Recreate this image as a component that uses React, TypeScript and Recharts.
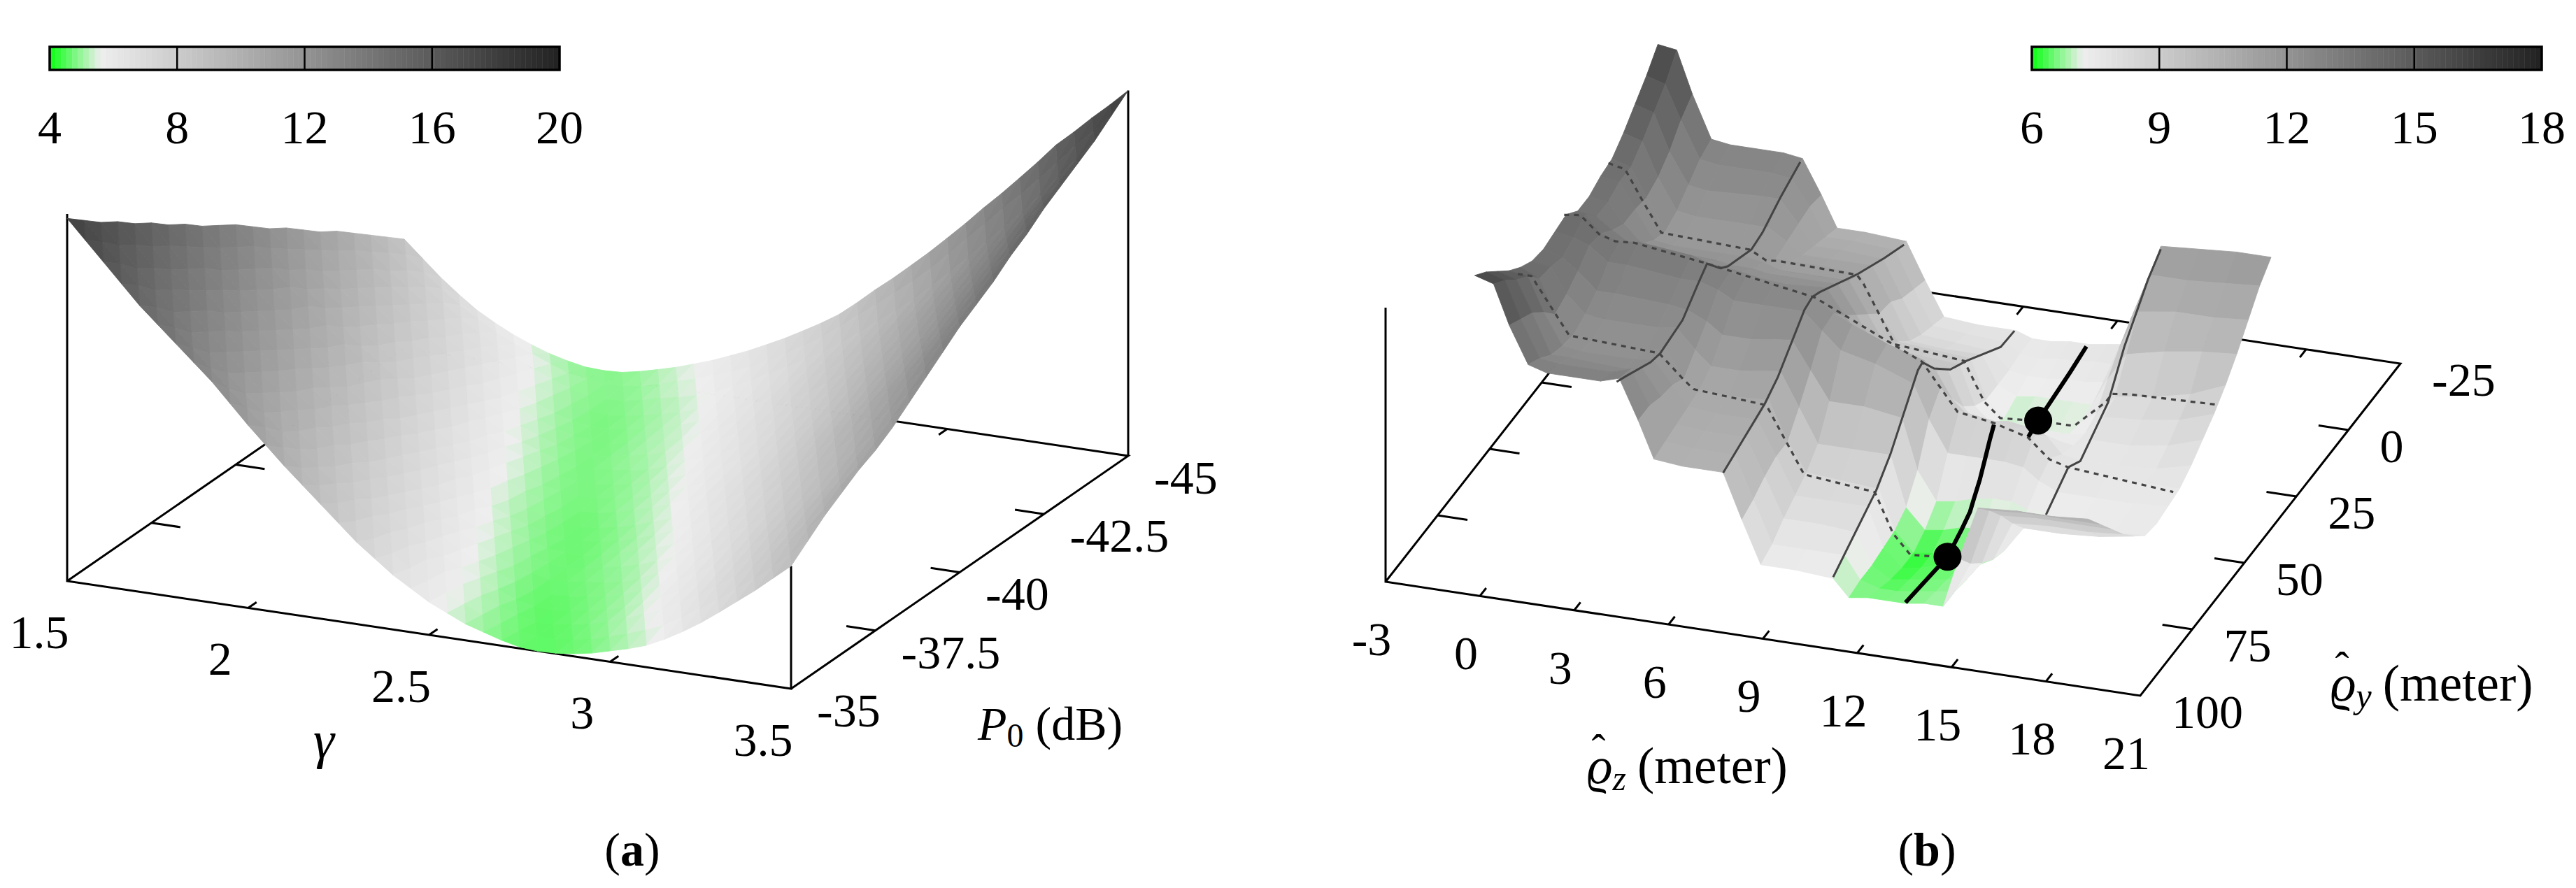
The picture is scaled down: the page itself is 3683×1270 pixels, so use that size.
import { ScatterChart, Scatter, XAxis, YAxis, ReferenceArea, ReferenceLine } from 'recharts';

const FONT = '"Liberation Serif", serif';
const WIDTH = 3683;
const HEIGHT = 1270;

// left panel: error over path loss exponent and reference power
const gammaValues = [1.5, 1.55, 1.6, 1.65, 1.7, 1.75, 1.8, 1.85, 1.9, 1.95, 2.0, 2.05, 2.1, 2.15, 2.2, 2.25, 2.3, 2.35, 2.4, 2.45, 2.5, 2.55, 2.6, 2.65, 2.7, 2.75, 2.8, 2.85, 2.9, 2.95, 3.0, 3.05, 3.1, 3.15, 3.2, 3.25, 3.3, 3.35, 3.4, 3.45, 3.5];
const p0Values = [-35, -35.5, -36, -36.5, -37, -37.5, -38, -38.5, -39, -39.5, -40, -40.5, -41, -41.5, -42, -42.5, -43, -43.5, -44, -44.5, -45];
const errorLeft = [
  [17.9, 17.2, 16.5, 15.8, 15.1, 14.5, 13.9, 13.3, 12.7, 12.0, 11.3, 10.65, 10.0, 9.4, 8.8, 8.2, 7.6, 7.1, 6.6, 6.2, 5.8, 5.5, 5.2, 5.0, 4.8, 4.65, 4.6, 4.62, 4.7, 4.82, 5.0, 5.18, 5.4, 5.72, 6.1, 6.52, 7.0, 7.5, 8.0, 8.55, 9.1],
  [17.4, 16.7, 16.0, 15.3, 14.6, 13.95, 13.3, 12.65, 12.0, 11.4, 10.8, 10.15, 9.5, 8.95, 8.4, 7.85, 7.3, 6.85, 6.4, 6.05, 5.7, 5.4, 5.1, 4.88, 4.7, 4.62, 4.6, 4.68, 4.8, 5.0, 5.2, 5.43, 5.7, 6.08, 6.5, 6.93, 7.4, 7.9, 8.4, 8.98, 9.6],
  [16.9, 16.15, 15.4, 14.7, 14.0, 13.35, 12.7, 12.05, 11.4, 10.8, 10.2, 9.65, 9.1, 8.6, 8.1, 7.6, 7.1, 6.7, 6.3, 5.95, 5.6, 5.28, 5.0, 4.78, 4.6, 4.62, 4.7, 4.83, 5.0, 5.23, 5.5, 5.78, 6.1, 6.48, 6.9, 7.33, 7.8, 8.33, 8.9, 9.48, 10.1],
  [16.5, 15.75, 15.0, 14.3, 13.6, 12.95, 12.3, 11.65, 11.0, 10.4, 9.8, 9.25, 8.7, 8.2, 7.7, 7.25, 6.8, 6.4, 6.0, 5.68, 5.4, 5.08, 4.8, 4.66, 4.6, 4.68, 4.8, 4.93, 5.1, 5.38, 5.7, 5.98, 6.3, 6.73, 7.2, 7.63, 8.1, 8.63, 9.2, 9.83, 10.5],
  [16.0, 15.25, 14.5, 13.85, 13.2, 12.55, 11.9, 11.25, 10.6, 10.05, 9.5, 8.95, 8.4, 7.9, 7.4, 7.0, 6.6, 6.2, 5.8, 5.48, 5.2, 4.93, 4.7, 4.65, 4.7, 4.78, 4.9, 5.08, 5.3, 5.58, 5.9, 6.23, 6.6, 7.03, 7.5, 7.98, 8.5, 9.03, 9.6, 10.23, 10.9],
  [15.6, 14.85, 14.1, 13.4, 12.7, 12.1, 11.5, 10.85, 10.2, 9.65, 9.1, 8.55, 8.0, 7.55, 7.1, 6.7, 6.3, 5.95, 5.6, 5.28, 5.0, 4.83, 4.7, 4.72, 4.8, 4.88, 5.0, 5.23, 5.5, 5.78, 6.1, 6.48, 6.9, 7.33, 7.8, 8.28, 8.8, 9.33, 9.9, 10.53, 11.2],
  [15.1, 14.4, 13.7, 13.0, 12.3, 11.7, 11.1, 10.5, 9.9, 9.35, 8.8, 8.25, 7.7, 7.25, 6.8, 6.4, 6.0, 5.68, 5.4, 5.13, 4.9, 4.77, 4.7, 4.77, 4.9, 5.03, 5.2, 5.43, 5.7, 6.03, 6.4, 6.78, 7.2, 7.63, 8.1, 8.58, 9.1, 9.68, 10.3, 10.93, 11.6],
  [14.7, 13.95, 13.2, 12.55, 11.9, 11.3, 10.7, 10.1, 9.5, 8.95, 8.4, 7.9, 7.4, 6.95, 6.5, 6.15, 5.8, 5.48, 5.2, 4.98, 4.8, 4.72, 4.7, 4.83, 5.0, 5.18, 5.4, 5.63, 5.9, 6.28, 6.7, 7.08, 7.5, 7.98, 8.5, 8.98, 9.5, 10.08, 10.7, 11.38, 12.1],
  [14.2, 13.5, 12.8, 12.15, 11.5, 10.9, 10.3, 9.7, 9.1, 8.6, 8.1, 7.6, 7.1, 6.7, 6.3, 5.88, 5.5, 5.23, 5.0, 4.83, 4.7, 4.73, 4.8, 4.93, 5.1, 5.33, 5.6, 5.88, 6.2, 6.58, 7.0, 7.43, 7.9, 8.38, 8.9, 9.43, 10.0, 10.58, 11.2, 11.88, 12.6],
  [13.8, 13.1, 12.4, 11.75, 11.1, 10.5, 9.9, 9.35, 8.8, 8.25, 7.7, 7.25, 6.8, 6.4, 6.0, 5.63, 5.3, 5.08, 4.9, 4.78, 4.7, 4.78, 4.9, 5.08, 5.3, 5.53, 5.8, 6.13, 6.5, 6.88, 7.3, 7.73, 8.2, 8.73, 9.3, 9.83, 10.4, 11.03, 11.7, 12.38, 13.1],
  [13.4, 12.7, 12.0, 11.4, 10.8, 10.2, 9.6, 9.05, 8.5, 7.95, 7.4, 6.95, 6.5, 6.13, 5.8, 5.48, 5.2, 4.98, 4.8, 4.75, 4.8, 4.93, 5.1, 5.28, 5.5, 5.78, 6.1, 6.43, 6.8, 7.18, 7.6, 8.08, 8.6, 9.13, 9.7, 10.28, 10.9, 11.53, 12.2, 12.88, 13.6],
  [12.9, 12.2, 11.5, 10.9, 10.3, 9.7, 9.1, 8.6, 8.1, 7.6, 7.1, 6.63, 6.2, 5.88, 5.6, 5.28, 5.0, 4.88, 4.8, 4.83, 4.9, 5.03, 5.2, 5.43, 5.7, 5.98, 6.3, 6.63, 7.0, 7.43, 7.9, 8.38, 8.9, 9.43, 10.0, 10.58, 11.2, 11.88, 12.6, 13.28, 14.0],
  [12.4, 11.75, 11.1, 10.5, 9.9, 9.3, 8.7, 8.2, 7.7, 7.25, 6.8, 6.4, 6.0, 5.68, 5.4, 5.13, 4.9, 4.82, 4.8, 4.88, 5.0, 5.18, 5.4, 5.63, 5.9, 6.18, 6.5, 6.88, 7.3, 7.73, 8.2, 8.68, 9.2, 9.78, 10.4, 10.98, 11.6, 12.28, 13.0, 13.68, 14.4],
  [12.0, 11.3, 10.6, 10.05, 9.5, 8.95, 8.4, 7.9, 7.4, 6.95, 6.5, 6.1, 5.7, 5.43, 5.2, 4.98, 4.8, 4.83, 4.9, 4.98, 5.1, 5.33, 5.6, 5.83, 6.1, 6.43, 6.8, 7.18, 7.6, 8.03, 8.5, 9.03, 9.6, 10.13, 10.7, 11.33, 12.0, 12.68, 13.4, 14.13, 14.9],
  [11.5, 10.85, 10.2, 9.65, 9.1, 8.55, 8.0, 7.55, 7.1, 6.65, 6.2, 5.85, 5.5, 5.23, 5.0, 4.88, 4.8, 4.88, 5.0, 5.13, 5.3, 5.53, 5.8, 6.08, 6.4, 6.73, 7.1, 7.48, 7.9, 8.38, 8.9, 9.43, 10.0, 10.53, 11.1, 11.73, 12.4, 13.08, 13.8, 14.53, 15.3],
  [11.0, 10.4, 9.8, 9.25, 8.7, 8.2, 7.7, 7.25, 6.8, 6.33, 5.9, 5.58, 5.3, 5.08, 4.9, 4.83, 4.8, 4.93, 5.1, 5.23, 5.4, 5.68, 6.0, 6.28, 6.6, 6.98, 7.4, 7.78, 8.2, 8.68, 9.2, 9.73, 10.3, 10.88, 11.5, 12.13, 12.8, 13.48, 14.2, 14.98, 15.8],
  [10.6, 10.0, 9.4, 8.85, 8.3, 7.8, 7.3, 6.9, 6.5, 6.08, 5.7, 5.38, 5.1, 4.93, 4.8, 4.83, 4.9, 5.03, 5.2, 5.38, 5.6, 5.88, 6.2, 6.53, 6.9, 7.28, 7.7, 8.13, 8.6, 9.08, 9.6, 10.13, 10.7, 11.28, 11.9, 12.53, 13.2, 13.93, 14.7, 15.43, 16.2],
  [10.1, 9.5, 8.9, 8.4, 7.9, 7.45, 7.0, 6.6, 6.2, 5.83, 5.5, 5.23, 5.0, 4.88, 4.8, 4.88, 5.0, 5.13, 5.3, 5.53, 5.8, 6.08, 6.4, 6.73, 7.1, 7.53, 8.0, 8.43, 8.9, 9.38, 9.9, 10.43, 11.0, 11.63, 12.3, 12.93, 13.6, 14.33, 15.1, 15.83, 16.6],
  [9.6, 9.05, 8.5, 8.0, 7.5, 7.03, 6.6, 6.23, 5.9, 5.58, 5.3, 5.08, 4.9, 4.87, 4.9, 5.03, 5.2, 5.33, 5.5, 5.73, 6.0, 6.33, 6.7, 7.03, 7.4, 7.78, 8.2, 8.68, 9.2, 9.68, 10.2, 10.78, 11.4, 12.03, 12.7, 13.33, 14.0, 14.73, 15.5, 16.23, 17.0],
  [9.1, 8.55, 8.0, 7.5, 7.0, 6.6, 6.2, 5.88, 5.6, 5.33, 5.1, 4.98, 4.9, 4.93, 5.0, 5.18, 5.4, 5.58, 5.8, 6.03, 6.3, 6.63, 7.0, 7.38, 7.8, 8.28, 8.8, 9.28, 9.8, 10.33, 10.9, 11.53, 12.2, 12.83, 13.5, 14.13, 14.8, 15.48, 16.2, 16.83, 17.5],
  [8.6, 8.0, 7.4, 6.88, 6.4, 6.03, 5.7, 5.43, 5.2, 5.03, 4.9, 4.87, 4.9, 5.03, 5.2, 5.38, 5.6, 5.83, 6.1, 6.38, 6.7, 7.03, 7.4, 7.78, 8.2, 8.73, 9.3, 9.83, 10.4, 10.98, 11.6, 12.23, 12.9, 13.53, 14.2, 14.88, 15.6, 16.18, 16.8, 17.38, 18.0],
];

const gammaTicks = [1.5, 2, 2.5, 3, 3.5];
const p0Ticks = [-35, -37.5, -40, -42.5, -45];
const barTicksLeft = [4, 8, 12, 16, 20];

// right panel: error over estimated position
const rhoZValues = [0, 0.6, 1.1, 1.7, 2.3, 4, 4.6, 5.2, 5.7, 6.6, 7.9, 8.5, 9.1, 10.2, 11.4, 11.9, 12.5, 13.1, 13.7, 14.3, 14.9, 15.4, 16, 17.2, 18.4, 19.5];
const rhoYValues = [102.5, 97, 91.5, 86, 80.5, 75, 69.5, 64, 58.5, 53, 47.5, 42, 36.5, 31, 25.5, 20, 14.5];
const errorRight = [
  [16.1, 15.9, 14.5, 13.2, 13.0, 13.0, 13.2, 11.8, 10.5, 10.4, 10.4, 8.8, 7.3, 7.3, 7.2, 6.6, 6.7, 6.7, 6.7, 6.8, 6.8, 8.6, 10.5, 10.6, 10.6, 10.7],
  [15.7, 15.5, 14.2, 12.9, 12.8, 12.8, 13.0, 11.8, 10.6, 10.5, 10.5, 9.0, 7.5, 7.5, 7.5, 6.7, 6.5, 6.5, 6.6, 6.7, 6.8, 7.9, 9.9, 10.0, 10.0, 10.0],
  [15.2, 15.0, 13.9, 12.5, 12.5, 12.4, 12.5, 11.6, 10.7, 10.6, 10.6, 9.3, 7.9, 7.9, 7.8, 6.7, 6.3, 6.4, 6.5, 6.6, 6.7, 7.4, 9.2, 9.3, 9.3, 9.3],
  [14.7, 14.6, 13.4, 12.3, 12.2, 12.2, 12.3, 11.5, 10.8, 10.7, 10.7, 9.5, 8.2, 8.2, 8.2, 6.8, 6.2, 6.3, 6.5, 6.5, 6.7, 7.0, 8.4, 8.5, 8.5, 8.6],
  [14.3, 14.0, 12.8, 12.2, 12.1, 12.0, 12.2, 11.2, 10.9, 10.8, 10.9, 9.5, 8.5, 8.4, 8.3, 6.9, 6.2, 6.3, 6.4, 6.4, 6.7, 6.8, 7.7, 7.7, 7.8, 8.0],
  [14.0, 13.9, 13.0, 12.4, 12.3, 12.3, 12.4, 11.7, 11.2, 11.2, 11.4, 10.2, 9.0, 9.0, 9.0, 7.2, 6.5, 6.6, 6.8, 6.8, 6.9, 6.9, 7.4, 7.4, 7.4, 7.5],
  [13.9, 13.7, 13.3, 12.7, 12.7, 12.6, 12.5, 12.2, 11.8, 11.8, 12.0, 11.0, 10.0, 10.0, 9.8, 8.0, 7.0, 7.1, 7.3, 7.4, 7.4, 7.2, 7.2, 7.3, 7.3, 7.4],
  [14.0, 13.9, 13.7, 13.2, 13.2, 13.0, 13.0, 12.8, 12.5, 12.5, 12.5, 11.9, 11.3, 11.0, 10.5, 9.3, 8.2, 8.2, 8.2, 8.2, 8.1, 7.7, 7.4, 7.4, 7.4, 7.5],
  [14.1, 14.2, 13.6, 13.4, 13.5, 13.3, 13.1, 12.9, 12.8, 12.7, 12.5, 12.0, 11.7, 11.2, 10.8, 9.9, 9.2, 9.1, 9.0, 8.9, 8.7, 8.0, 7.8, 7.7, 7.6, 7.6],
  [13.7, 13.6, 13.2, 12.8, 12.7, 12.5, 12.5, 12.4, 12.3, 12.2, 12.3, 11.4, 10.5, 10.3, 9.9, 9.0, 8.4, 8.4, 8.5, 8.4, 8.2, 7.6, 7.5, 7.5, 7.6, 7.9],
  [13.7, 13.6, 12.9, 12.3, 12.2, 12.1, 12.0, 12.0, 11.9, 11.9, 11.9, 10.9, 9.8, 9.6, 9.4, 8.2, 7.5, 7.6, 7.7, 7.6, 7.5, 7.4, 7.7, 7.7, 7.9, 8.3],
  [13.9, 13.8, 12.9, 11.9, 11.8, 11.8, 11.8, 11.7, 11.5, 11.5, 11.5, 10.4, 9.3, 9.2, 9.1, 7.7, 7.1, 7.2, 7.2, 7.2, 7.2, 7.3, 8.0, 8.1, 8.3, 8.7],
  [14.0, 13.8, 12.8, 11.7, 11.7, 11.6, 11.6, 11.3, 11.3, 11.3, 11.2, 9.9, 9.0, 8.9, 8.8, 7.4, 6.9, 7.0, 7.0, 7.0, 7.1, 7.5, 8.2, 8.4, 8.7, 9.2],
  [14.4, 14.2, 13.0, 11.9, 11.8, 11.8, 11.8, 11.4, 11.0, 11.0, 11.0, 9.8, 8.5, 8.4, 8.4, 7.4, 7.1, 7.2, 7.2, 7.2, 7.2, 8.2, 9.2, 9.5, 9.7, 9.8],
  [14.9, 14.7, 13.4, 12.3, 12.2, 12.3, 12.3, 11.5, 10.8, 10.8, 10.7, 9.4, 8.2, 8.1, 8.0, 7.4, 7.3, 7.3, 7.4, 7.4, 7.5, 8.8, 10.2, 10.4, 10.4, 10.5],
  [15.4, 15.2, 14.0, 12.7, 12.6, 12.6, 12.5, 11.6, 10.6, 10.6, 10.5, 9.2, 8.0, 7.9, 7.8, 7.5, 7.4, 7.5, 7.5, 7.6, 7.6, 9.3, 11.0, 11.0, 11.1, 11.2],
  [16.0, 15.9, 14.4, 12.9, 12.8, 12.8, 12.7, 11.5, 10.4, 10.4, 10.3, 9.0, 7.8, 7.7, 7.7, 7.5, 7.5, 7.6, 7.6, 7.7, 7.8, 9.6, 11.5, 11.6, 11.7, 11.7],
];

const rhoZTicks = [-3, 0, 3, 6, 9, 12, 15, 18, 21];
const rhoYTicks = [100, 75, 50, 25, 0, -25];
const barTicksRight = [6, 9, 12, 15, 18];

// solid sections at constant rho z, [rho y, error]
const rhoZSection1 = 4.6;
const rhoZLine1 = [[15.6, 12.68], [24.8, 12.33], [33.8, 11.88], [39.1, 11.78], [50.3, 12.25], [54, 12.53], [60.4, 13.3], [64.8, 12.98], [72.1, 12.4], [82.9, 12.23], [87.5, 12.35], [99.4, 12.98], [103.8, 13.2]];
const rhoZSection2 = 7.9;
const rhoZLine2 = [[15.6, 10.28], [25, 10.7], [37.9, 11.35], [56, 12.43], [59.6, 12.6], [63.4, 12.5], [76.3, 11.3], [82.5, 10.95], [102.5, 10.38]];
const rhoZSection3 = 11.4;
const rhoZLine3 = [[15.4, 7.78], [22, 7.83], [38.5, 8.9], [46.3, 9.33], [54, 10.1], [59.6, 10.85], [61.8, 10.78], [75, 9.03], [81.9, 8.38], [102.5, 7.25]];
const rhoZSection4 = 16;
const rhoZLine4 = [[14.6, 11.4], [20.75, 10.9], [32.1, 9.58], [39.9, 8.33], [53.25, 7.5], [59, 7.83], [69.75, 7.15]];
// thick section, hidden behind the ridge in the middle
const rhoZBest = 13.7;
const bestRear = [[15.6, 7.63], [23.4, 7.45], [38.75, 7.18], [43.5, 7.05]];
const bestFront = [[60, 9.05], [62, 8.7], [63.75, 8.34], [66.8, 7.73], [69.75, 7.3], [71.5, 7.03], [75.5, 6.78], [82.3, 6.45], [102.5, 6.73]];
const bestPoints = [[38.75, 7.18], [82.3, 6.45]];

// dashed sections at constant rho y, [rho z, error]
const rhoYSection1 = 81;
const rhoYLine1 = [[-0.05, 14.1], [0.38, 14.1], [1.58, 12.18], [4.44, 12.03], [5.21, 11.23], [5.54, 10.93], [7.85, 10.75], [9.05, 8.48], [11.3, 8.23], [11.88, 6.85], [12.43, 6.18], [13.54, 6.28]];
const rhoYSection2 = 58.75;
const rhoYLine2 = [[-0.05, 14.1], [0.46, 14.18], [1.06, 13.6], [1.58, 13.43], [2.18, 13.48], [4.49, 13.13], [7.92, 12.5], [11.33, 10.78], [12.46, 9.18], [13.61, 8.98], [14.69, 8.65], [15.38, 7.98], [15.96, 7.8], [19.32, 7.48]];
const rhoYSection3 = 37.5;
const rhoYLine3 = [[-0.05, 13.93], [0.48, 13.8], [1.03, 12.78], [1.63, 11.73], [4.46, 11.6], [4.97, 11.3], [5.33, 11.35], [7.85, 11.28], [8.06, 11], [9.05, 9], [11.26, 8.78], [11.9, 7.43], [12.41, 6.93], [13.61, 7.03], [14.76, 7.05], [15.77, 8.08], [15.96, 8.4], [16.55, 8.48], [19.32, 8.58]];

// 3D views of the two boxes, in pixels of the page
const projectLeft = (gamma: number, p0: number, z: number) => {
  const f = (gamma - 1.5) / 2;
  const e = (-35 - p0) / 10;
  return { sx: 96 + 1035 * f + 482 * e, sy: 831 + 154 * f - 333 * e - 39 * (z - 4.6) };
};

const projectRight = (rz: number, ry: number, z: number) => {
  const u = (rz + 3) / 24;
  const w = (100 - ry) / 125;
  return { sx: 1981 + 1079 * u + 372 * w, sy: 832 + 163 * u - 475 * w - 40 * (z - 4.4) };
};

// green near the minimum, then grey getting darker
const colorAt = (t: number) => {
  if (t < 0.1) {
    const k = Math.max(t, 0) / 0.1;
    const r = Math.round(10 + 228 * k);
    const g = Math.round(255 - 17 * k);
    const b = Math.round(20 + 218 * k);
    return `rgb(${r},${g},${b})`;
  }
  const grey = Math.round(238 - (204 * (t - 0.1)) / 0.9);
  return `rgb(${grey},${grey},${grey})`;
};

const cell = (corners: { sx: number; sy: number }[], fill: string) => ({
  sx: corners[0].sx,
  sy: corners[0].sy,
  offsets: corners.map((c) => [c.sx - corners[0].sx, c.sy - corners[0].sy]),
  fill,
});

// back rows first, so that the front of the surface covers them
const buildLeftCells = () => {
  const cells = [];
  for (let j = p0Values.length - 2; j >= 0; j--) {
    for (let i = 0; i < gammaValues.length - 1; i++) {
      const z00 = errorLeft[j][i];
      const z10 = errorLeft[j][i + 1];
      const z01 = errorLeft[j + 1][i];
      const z11 = errorLeft[j + 1][i + 1];
      const a = projectLeft(gammaValues[i], p0Values[j], z00);
      const b = projectLeft(gammaValues[i + 1], p0Values[j], z10);
      const c = projectLeft(gammaValues[i + 1], p0Values[j + 1], z11);
      const d = projectLeft(gammaValues[i], p0Values[j + 1], z01);
      cells.push(cell([b, c, d], colorAt(((z10 + z11 + z01) / 3 - 4) / 16)));
      cells.push(cell([a, b, d], colorAt(((z00 + z10 + z01) / 3 - 4) / 16)));
    }
  }
  return cells;
};

const buildRightCells = () => {
  const cells = [];
  for (let j = rhoYValues.length - 2; j >= 0; j--) {
    for (let i = 0; i < rhoZValues.length - 1; i++) {
      const z00 = errorRight[j][i];
      const z10 = errorRight[j][i + 1];
      const z01 = errorRight[j + 1][i];
      const z11 = errorRight[j + 1][i + 1];
      const corners = [
        projectRight(rhoZValues[i], rhoYValues[j], z00),
        projectRight(rhoZValues[i + 1], rhoYValues[j], z10),
        projectRight(rhoZValues[i + 1], rhoYValues[j + 1], z11),
        projectRight(rhoZValues[i], rhoYValues[j + 1], z01),
      ];
      cells.push(cell(corners, colorAt(((z00 + z10 + z01 + z11) / 4 - 6) / 12)));
    }
  }
  return cells;
};

const leftCells = buildLeftCells();
const rightCells = buildRightCells();

const PolygonMark = (props: any) => {
  const { cx, cy, payload } = props;
  const points = payload.offsets.map(([dx, dy]: number[]) => `${cx + dx},${cy + dy}`).join(' ');
  return <polygon points={points} fill={payload.fill} stroke={payload.fill} strokeWidth={0.9} />;
};

const NoMark = () => <g />;

const TextMark = (props: any) => {
  const { cx, cy, payload } = props;
  return (
    <text x={cx} y={cy} dy="0.35em" textAnchor={payload.anchor} fontFamily={FONT} fontSize={68} fill="#000">
      {payload.text}
    </text>
  );
};

const DotMark = (props: any) => <circle cx={props.cx} cy={props.cy} r={20} fill="#000" />;

const GammaTitle = (props: any) => (
  <text x={props.cx} y={props.cy} dy="0.35em" textAnchor="middle" fontFamily={FONT} fontSize={76} fontStyle="italic">γ</text>
);
const P0Title = (props: any) => (
  <text x={props.cx} y={props.cy} dy="0.35em" fontFamily={FONT} fontSize={68}>
    <tspan fontStyle="italic">P</tspan>
    <tspan fontSize={48} dy="10">0</tspan>
    <tspan dy="-10"> (dB)</tspan>
  </text>
);
const RhoTitle = (props: any) => (
  <text x={props.cx} y={props.cy + 25} fontFamily={FONT} fontSize={72}>
    <tspan fontStyle="italic">ϱ</tspan>
    <tspan fontSize={60} dx="-30" dy="-29">ˆ</tspan>
    <tspan fontSize={50} fontStyle="italic" dx="10" dy="39">{props.payload.sub}</tspan>
    <tspan dx="16" dy="-10" fontSize={73}>(meter)</tspan>
  </text>
);
const PanelTitle = (props: any) => (
  <text x={props.cx} y={props.cy} dy="0.35em" textAnchor="middle" fontFamily={FONT} fontSize={68}>
    (<tspan fontWeight="bold">{props.payload.letter}</tspan>)
  </text>
);

const axisLine = { stroke: '#000', strokeWidth: 3 };
const solidLine = { stroke: '#444', strokeWidth: 3 };
const dashedLine = { stroke: '#444', strokeWidth: 3.2, strokeDasharray: '7 7' };
const thickLine = { stroke: '#000', strokeWidth: 6 };

const path = (points: { sx: number; sy: number }[], style: object, key: string) => (
  <Scatter key={key} data={points} line={style} lineType="joint" shape={NoMark} isAnimationActive={false} />
);

const tickPath = (a: { sx: number; sy: number }, b: { sx: number; sy: number }, key: string) =>
  path([a, b], axisLine, key);

function ColorBar({ ticks, left }: { ticks: number[]; left: number }) {
  const lo = ticks[0];
  const hi = ticks[ticks.length - 1];
  const count = 90;
  const steps = Array.from({ length: count }, (_, i) => i);
  const span = (hi - lo) / count;
  const anchors = ticks.map((t) => ({ x: t, y: 0 }));
  return (
    <div style={{ position: 'absolute', left: left - 60, top: 60 }}>
      <ScatterChart width={849} height={170} margin={{ top: 7, right: 60, bottom: 0, left: 60 }}>
        <XAxis
          type="number"
          dataKey="x"
          domain={[lo, hi]}
          ticks={ticks}
          interval={0}
          height={130}
          axisLine={false}
          tickLine={false}
          tickSize={0}
          tickMargin={57}
          tick={{ fontFamily: FONT, fontSize: 68, fill: '#000' }}
        />
        <YAxis type="number" dataKey="y" domain={[0, 1]} hide />
        <Scatter data={anchors} shape={NoMark} isAnimationActive={false} />
        {steps.map((i) => (
          <ReferenceArea
            key={i}
            x1={lo + i * span}
            x2={lo + (i + 1) * span}
            y1={0}
            y2={1}
            fill={colorAt((i + 0.5) / count)}
            fillOpacity={1}
            stroke={colorAt((i + 0.5) / count)}
            strokeWidth={0.5}
          />
        ))}
        {ticks.slice(1, -1).map((t) => (
          <ReferenceLine key={t} x={t} stroke="#000" strokeWidth={2.5} />
        ))}
        <ReferenceArea x1={lo} x2={hi} y1={0} y2={1} fill="none" stroke="#000" strokeWidth={3.5} />
      </ScatterChart>
    </div>
  );
}

export default function App() {
  const zFloorLeft = 4.6;
  const zFloorRight = 4.4;

  const leftAxes = [
    path([projectLeft(1.5, -35, 18.06), projectLeft(1.5, -35, zFloorLeft), projectLeft(3.5, -35, zFloorLeft), projectLeft(3.5, -35, 9.1)], axisLine, 'a-front'),
    path([projectLeft(1.5, -35, zFloorLeft), projectLeft(1.5, -45, zFloorLeft), projectLeft(3.5, -45, zFloorLeft), projectLeft(3.5, -35, zFloorLeft)], axisLine, 'a-floor'),
    path([projectLeft(3.5, -45, zFloorLeft), projectLeft(3.5, -45, 18)], axisLine, 'a-back'),
    ...gammaTicks.slice(1, -1).flatMap((g) => [
      tickPath(projectLeft(g, -35, zFloorLeft), projectLeft(g, -35.25, zFloorLeft), `a-g${g}`),
      tickPath(projectLeft(g, -45, zFloorLeft), projectLeft(g, -44.75, zFloorLeft), `a-gb${g}`),
    ]),
    ...p0Ticks.slice(1, -1).flatMap((p) => [
      tickPath(projectLeft(3.5, p, zFloorLeft), projectLeft(3.42, p, zFloorLeft), `a-p${p}`),
      tickPath(projectLeft(1.5, p, zFloorLeft), projectLeft(1.58, p, zFloorLeft), `a-pb${p}`),
    ]),
  ];

  const rightAxes = [
    path([projectRight(-3, 100, 14.2), projectRight(-3, 100, zFloorRight), projectRight(21, 100, zFloorRight), projectRight(21, -25, zFloorRight), projectRight(-3, -25, zFloorRight), projectRight(-3, 100, zFloorRight)], axisLine, 'b-floor'),
    ...rhoZTicks.slice(1, -1).flatMap((r) => [
      tickPath(projectRight(r, 100, zFloorRight), projectRight(r, 97, zFloorRight), `b-z${r}`),
      tickPath(projectRight(r, -25, zFloorRight), projectRight(r, -22, zFloorRight), `b-zb${r}`),
    ]),
    ...rhoYTicks.slice(1, -1).flatMap((y) => [
      tickPath(projectRight(21, y, zFloorRight), projectRight(20.05, y, zFloorRight), `b-y${y}`),
      tickPath(projectRight(-3, y, zFloorRight), projectRight(-2.05, y, zFloorRight), `b-yb${y}`),
    ]),
  ];

  const gammaLabels = gammaTicks.map((g) => {
    const p = projectLeft(g, -35, zFloorLeft);
    return { sx: p.sx - 40, sy: p.sy + 72, text: String(g), anchor: 'middle' };
  });
  const p0Labels = p0Ticks.map((t) => {
    const p = projectLeft(3.5, t, zFloorLeft);
    return { sx: p.sx + 37, sy: p.sy + 30, text: String(t), anchor: 'start' };
  });
  const rhoZLabels = rhoZTicks.map((t) => {
    const p = projectRight(t, 100, zFloorRight);
    return { sx: p.sx - 20, sy: p.sy + 81, text: String(t), anchor: 'middle' };
  });
  const rhoYLabels = rhoYTicks.map((t) => {
    const p = projectRight(21, t, zFloorRight);
    return { sx: p.sx + 45, sy: p.sy + 22, text: String(t), anchor: 'start' };
  });

  const sectionZ = (rz: number, line: number[][]) => line.map(([y, z]) => projectRight(rz, y, z));
  const sectionY = (ry: number, line: number[][]) => line.map(([rz, z]) => projectRight(rz, ry, z));

  return (
    <div style={{ position: 'absolute', left: 0, top: 0, width: WIDTH, height: HEIGHT, background: '#fff' }}>
      <div style={{ position: 'absolute', left: 0, top: 0 }}>
        <ScatterChart width={WIDTH} height={HEIGHT} margin={{ top: 0, right: 0, bottom: 0, left: 0 }}>
          <XAxis type="number" dataKey="sx" domain={[0, WIDTH]} hide />
          <YAxis type="number" dataKey="sy" domain={[0, HEIGHT]} reversed hide />

          {leftAxes}
          <Scatter data={leftCells} shape={PolygonMark} isAnimationActive={false} />
          <Scatter data={[...gammaLabels, ...p0Labels]} shape={TextMark} isAnimationActive={false} />
          <Scatter data={[{ sx: 463, sy: 1057 }]} shape={GammaTitle} isAnimationActive={false} />
          <Scatter data={[{ sx: 1398, sy: 1034 }]} shape={P0Title} isAnimationActive={false} />
          <Scatter data={[{ sx: 904, sy: 1214, letter: 'a' }]} shape={PanelTitle} isAnimationActive={false} />

          {rightAxes}
          <Scatter data={rightCells} shape={PolygonMark} isAnimationActive={false} />
          {path(sectionY(rhoYSection3, rhoYLine3), dashedLine, 'y3')}
          {path(sectionY(rhoYSection2, rhoYLine2), dashedLine, 'y2')}
          {path(sectionY(rhoYSection1, rhoYLine1), dashedLine, 'y1')}
          {path(sectionZ(rhoZSection1, rhoZLine1), solidLine, 'z1')}
          {path(sectionZ(rhoZSection2, rhoZLine2), solidLine, 'z2')}
          {path(sectionZ(rhoZSection3, rhoZLine3), solidLine, 'z3')}
          {path(sectionZ(rhoZSection4, rhoZLine4), solidLine, 'z4')}
          {path(sectionZ(rhoZBest, bestRear), thickLine, 'best-rear')}
          {path(sectionZ(rhoZBest, bestFront), thickLine, 'best-front')}
          <Scatter data={sectionZ(rhoZBest, bestPoints)} shape={DotMark} isAnimationActive={false} />
          <Scatter data={[...rhoZLabels, ...rhoYLabels]} shape={TextMark} isAnimationActive={false} />
          <Scatter data={[{ sx: 2269, sy: 1095, sub: 'z' }, { sx: 3332, sy: 977, sub: 'y' }]} shape={RhoTitle} isAnimationActive={false} />
          <Scatter data={[{ sx: 2755, sy: 1214, letter: 'b' }]} shape={PanelTitle} isAnimationActive={false} />
        </ScatterChart>
      </div>
      <ColorBar ticks={barTicksLeft} left={71} />
      <ColorBar ticks={barTicksRight} left={2905} />
    </div>
  );
}
